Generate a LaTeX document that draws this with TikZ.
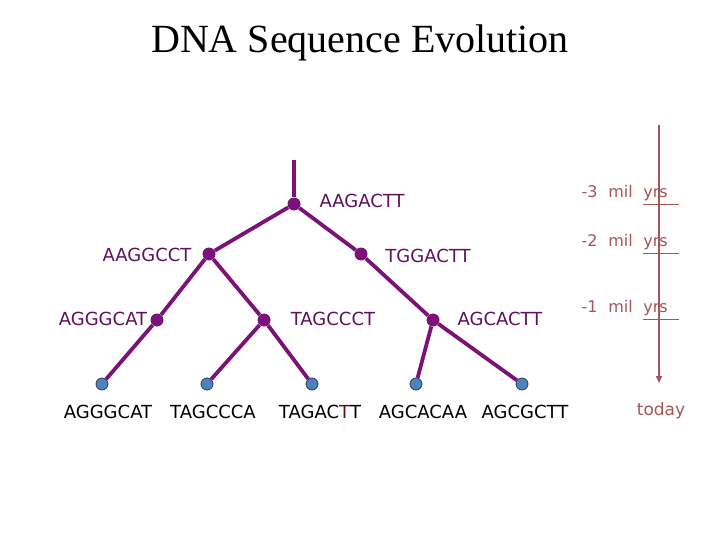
\documentclass[tikz,border=0pt]{standalone}
\usepackage{fontspec}
\setmainfont{DejaVu Sans}
\newfontfamily\titlefont{Liberation Serif}
\newfontfamily\yrsfont{DejaVu Sans}[WordSpace=2.1]
\usetikzlibrary{arrows.meta, positioning}

\definecolor{treepurple}{RGB}{122,18,122}
\definecolor{labelpurple}{RGB}{96,16,96}
\definecolor{leafblue}{RGB}{79,129,189}
\definecolor{leafedge}{RGB}{40,60,90}
\definecolor{timered}{RGB}{165,85,85}
\definecolor{mutred}{RGB}{105,12,12}

\begin{document}
\begin{tikzpicture}[x=1pt, y=-1pt,
    branch/.style={line width=3.8pt, treepurple},
    inner/.style={circle, fill=treepurple, inner sep=0pt, minimum size=13pt},
    leaf/.style={circle, fill=leafblue, draw=leafedge, line width=0.8pt, inner sep=0pt, minimum size=12pt},
    seq/.style={font=\fontsize{18}{20}\selectfont, text=labelpurple, inner sep=0pt},
    leafseq/.style={font=\fontsize{18}{20}\selectfont, text=black, inner sep=0pt},
    timeline/.style={line width=1.6pt, timered},
    yrs/.style={font=\yrsfont\fontsize{16}{18}\selectfont, text=timered, inner sep=0pt}]
    \useasboundingbox (0,0) rectangle (720,540);

    \node[font=\titlefont\fontsize{40}{44}\selectfont, inner sep=0pt] (title) at (360,43) {DNA Sequence Evolution};

    \coordinate (top) at (294,160);
    \node[inner] (n0) at (294,204) {};
    \node[inner] (n1) at (209,254) {};
    \node[inner] (n2) at (361,254) {};
    \node[inner] (n3) at (157,320) {};
    \node[inner] (n4) at (264,320) {};
    \node[inner] (n5) at (433,320) {};

    \foreach \n/\x in {l1/102, l2/207, l3/312, l4/416, l5/522}
        \node[leaf] (\n) at (\x,384) {};

    \draw[branch] (top) -- (n0);
    \foreach \a/\b in {n0/n1, n0/n2, n1/n3, n1/n4, n2/n5, n3/l1, n4/l2, n4/l3, n5/l4, n5/l5}
        \draw[branch] (\a) -- (\b);

    \node[seq] (s0) at (362,201) {AAGACTT};
    \node[seq] (s1) at (147,255) {AAGGCCT};
    \node[seq] (s2) at (428,256) {TGGACTT};
    \node[seq] (s3) at (103,319) {AGGGCAT};
    \node[seq] (s4) at (333,319) {TAGCCCT};
    \node[seq] (s5) at (500,319) {AGCACTT};

    \node[leafseq] (t1) at (108,412) {AGGGCAT};
    \node[leafseq] (t2) at (213,412) {TAGCCCA};
    \node[leafseq] (t3) at (320,412) {TAGAC{\color{mutred}T}T};
    \node[leafseq] (t4) at (423,412) {AGCACAA};
    \node[leafseq] (t5) at (525,412) {AGCGCTT};

    \coordinate (tstart) at (659,125);
    \coordinate (tend) at (659,383);
    \draw[timeline, -{Triangle[length=7pt, width=6pt]}] (tstart) -- (tend);
    \foreach \k/\y in {3/193, 2/242, 1/308} {
        \node[yrs, anchor=east] (y\k) at (668,\y) {-\k\ mil yrs};
        \draw[line width=0.8pt, timered] (643,\y+11) -- (679,\y+11);
    }
    \node[yrs, font=\fontsize{17}{19}\selectfont] (today) at (661,411) {today};
\end{tikzpicture}
\end{document}
